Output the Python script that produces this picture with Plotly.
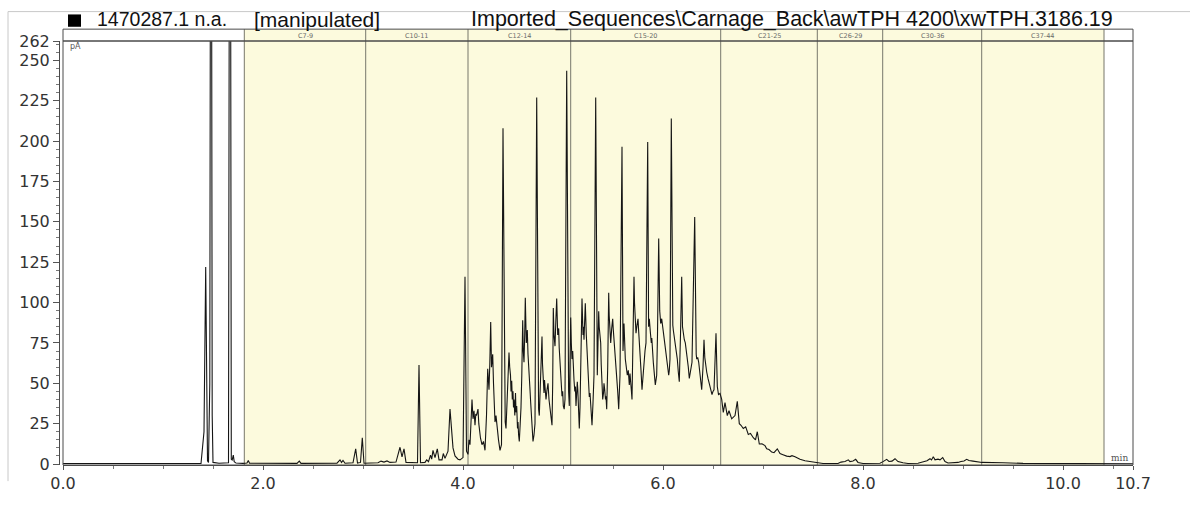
import plotly.graph_objects as go

# ---------------- data ----------------
time_min = [
    0.00, 1.38, 1.41, 1.427, 1.445, 1.455, 1.468, 1.48, 1.492, 1.50, 1.56, 1.655, 1.67, 1.683, 1.692,
    1.703, 1.712, 1.73, 1.80, 1.84, 1.853, 1.865,
    2.34, 2.363, 2.38, 2.74, 2.77, 2.785, 2.80, 2.82, 2.90, 2.927, 2.945, 2.975, 2.993, 3.01,
    3.15, 3.18, 3.21, 3.24, 3.27, 3.33, 3.37, 3.39, 3.41, 3.43, 3.545, 3.56, 3.575, 3.62, 3.637,
    3.655, 3.675, 3.687, 3.70, 3.72, 3.743, 3.76, 3.79, 3.803, 3.82, 3.837, 3.85, 3.87, 3.878,
    3.885, 3.90, 3.92, 3.95, 3.97,
    4.00, 4.02, 4.035, 4.05, 4.06, 4.07, 4.08, 4.09, 4.10, 4.11, 4.12, 4.128, 4.135, 4.15, 4.158,
    4.165, 4.175, 4.19, 4.205, 4.22, 4.235, 4.247, 4.253, 4.26, 4.268, 4.277, 4.285, 4.297, 4.305,
    4.31, 4.32, 4.33, 4.34, 4.355, 4.37, 4.385, 4.40, 4.415, 4.422, 4.43, 4.437, 4.445, 4.452,
    4.46, 4.467, 4.475, 4.48, 4.487, 4.493, 4.50, 4.505, 4.51, 4.518, 4.525, 4.53, 4.537, 4.545,
    4.55, 4.556, 4.563, 4.572, 4.58, 4.588, 4.597, 4.603, 4.61, 4.617, 4.623, 4.633, 4.643, 4.65,
    4.655, 4.662, 4.67, 4.677, 4.685, 4.693, 4.70, 4.71, 4.72, 4.737, 4.75, 4.756, 4.763, 4.77,
    4.775, 4.782, 4.79, 4.795, 4.80, 4.805, 4.81, 4.815, 4.82, 4.825, 4.83, 4.84, 4.85, 4.86,
    4.87, 4.88, 4.89, 4.897, 4.903, 4.91, 4.92, 4.928, 4.937, 4.947, 4.957, 4.962, 4.967, 4.972,
    4.977, 4.983, 4.99, 4.997, 5.003, 5.012, 5.02, 5.037, 5.05, 5.056, 5.063, 5.07, 5.077, 5.083,
    5.09, 5.097, 5.103, 5.11, 5.118, 5.124, 5.13, 5.137, 5.143, 5.148, 5.153, 5.158, 5.163, 5.17,
    5.178, 5.184, 5.19, 5.20, 5.205, 5.21, 5.217, 5.223, 5.233, 5.238, 5.243, 5.248, 5.253, 5.258,
    5.263, 5.27, 5.277, 5.283, 5.29, 5.30, 5.31, 5.327, 5.343, 5.35, 5.357, 5.362, 5.367, 5.372,
    5.377, 5.382, 5.387, 5.392, 5.397, 5.405, 5.41, 5.417, 5.425, 5.43, 5.437, 5.447, 5.457, 5.462,
    5.467, 5.472, 5.477, 5.487, 5.497, 5.502, 5.507, 5.512, 5.517, 5.527, 5.537, 5.547, 5.557,
    5.564, 5.57, 5.59, 5.60, 5.605, 5.61, 5.617, 5.623, 5.633, 5.643, 5.653, 5.663, 5.67, 5.677,
    5.683, 5.69, 5.70, 5.71, 5.715, 5.72, 5.725, 5.73, 5.74, 5.75, 5.755, 5.76, 5.765, 5.77, 5.78,
    5.79, 5.80, 5.81, 5.82, 5.83, 5.847, 5.856, 5.863, 5.873, 5.883, 5.888, 5.893, 5.898, 5.903,
    5.913, 5.923, 5.93, 5.937, 5.945, 5.957, 5.967, 5.972, 5.977, 5.987, 5.997, 6.007, 6.017,
    6.022, 6.027, 6.032, 6.037, 6.047, 6.057, 6.063, 6.07, 6.083, 6.093, 6.098, 6.103, 6.113,
    6.123, 6.133, 6.143, 6.153, 6.163, 6.175, 6.187, 6.195, 6.203, 6.213, 6.223, 6.233, 6.243,
    6.253, 6.263, 6.275, 6.29, 6.317, 6.327, 6.332, 6.337, 6.347, 6.357, 6.365, 6.372, 6.38,
    6.387, 6.40, 6.41, 6.418, 6.425, 6.43, 6.437, 6.45, 6.463, 6.475, 6.49, 6.50, 6.51, 6.53,
    6.543, 6.555, 6.57,
    6.587, 6.603, 6.62, 6.643, 6.66, 6.687, 6.72, 6.743, 6.763, 6.78, 6.803, 6.827, 6.853, 6.875,
    6.903, 6.925, 6.943, 6.963, 6.99, 7.02, 7.037, 7.06, 7.087, 7.11, 7.143, 7.17, 7.20, 7.237,
    7.27, 7.29, 7.32, 7.37, 7.42, 7.47, 7.543, 7.60, 7.75, 7.78, 7.82, 7.853, 7.87, 7.90, 7.927,
    7.95, 8.00, 8.17, 8.20, 8.237, 8.26, 8.29, 8.32, 8.35, 8.40, 8.45, 8.55, 8.60, 8.64, 8.67,
    8.685, 8.703, 8.72, 8.75, 8.77, 8.797, 8.82, 8.85, 8.95, 8.98, 9.01, 9.037, 9.06, 9.10, 9.15,
    9.19, 9.40, 9.60, 10.70,
]
signal_pA = [
    0.3, 0.3, 20, 122, 2, 1, 50, 600, 30, 1, 0.5, 0.8, 600, 3, 2.5,
    5.5, 1.5, 0.6, 0.4, 0.6, 2.2, 0.5,
    0.4, 1.8, 0.4, 0.5, 2.6, 1.0, 2.2, 0.5, 0.8, 9.4, 0.6, 1.0, 16.3, 0.5,
    0.8, 1.8, 1.2, 1.9, 1.0, 1.2, 10.4, 4.5, 9.4, 1.0, 0.8, 61.3, 0.8, 1.0, 2.6,
    1.5, 5.5, 3.0, 8.5, 4.0, 9.4, 2.6, 2.6, 6.5, 3.5, 6.5, 8, 34, 26,
    22, 10, 5, 3, 2.6,
    4, 116, 8, 6, 15, 12, 30, 40, 28, 33, 24, 31, 30, 34, 25,
    20, 16, 12, 14, 8.5, 30, 59, 50, 46, 62, 88, 60, 68, 50,
    40, 26, 30, 22, 15, 8.5, 12, 208, 30, 26, 22, 34, 40, 52,
    69, 60, 55, 45, 51.5, 40, 45, 35, 40, 30, 44, 32, 36, 22,
    26, 18, 14, 25, 35, 55, 89, 70, 63, 80, 103, 75, 83, 68,
    60, 52, 46, 38, 30, 20, 14, 18, 25, 227, 40, 34, 30, 42,
    55, 62, 79, 62, 55, 46, 44, 52, 48, 42, 40, 46, 50, 40,
    34, 30, 24, 50, 96.6, 80, 73, 88, 102.5, 80, 84, 72, 65, 58,
    51, 47, 42, 45, 36, 34, 40, 243.5, 60, 45, 36, 60, 90.7, 75,
    65, 70, 55.5, 52, 45, 48, 36, 44, 51, 46, 40, 30, 22, 35,
    55, 80, 102.5, 80, 85, 77, 88, 99.5, 80, 72, 69, 60, 55, 50,
    41.5, 44, 35, 30, 24, 38, 55, 227, 55, 75, 94.6, 85, 80, 82,
    75, 62, 55, 47, 40, 44, 50, 46, 40, 42, 34, 60, 106, 92,
    85, 80, 75, 84, 90, 84, 80, 74, 69, 63, 59, 45, 34,
    45, 55, 196.5, 70, 78, 87, 74, 65, 60, 55, 58, 49, 56, 52,
    46, 40, 70, 116, 100, 90, 84, 81, 86, 90, 84, 80, 76, 71, 58,
    46, 55, 65, 70, 75, 199.5, 85, 90, 82, 75, 78, 70, 66, 63,
    56, 49, 52, 55, 80, 139.7, 95, 90, 87, 90, 83, 80, 75,
    72, 70, 66, 63, 58, 55, 58, 65, 214, 90, 86, 83, 79,
    75, 70, 65, 57, 51, 80, 116, 85, 79, 77, 75, 70, 67,
    60, 53, 58, 63, 153, 70, 68, 65, 66, 63, 58, 55, 50,
    46, 60, 77, 66, 62, 60, 57, 53, 49, 46, 43, 45, 46, 81,
    48, 43, 43.7,
    40, 32, 38, 30, 33, 28, 30, 38.8, 25, 24, 22, 23, 18.3, 19,
    16.3, 15, 20, 12.4, 12.5, 11.4, 9.4, 9, 7.4, 7.0, 9.4, 6.5, 5.8, 4.9,
    4.6, 5.2, 4.5, 2.9, 2.0, 1.6, 0.6, 0.3, 0.3, 1.2, 1.6, 2.6, 1.5, 1.9, 2.9,
    1.0, 0.3, 0.5, 1.5, 2.9, 1.6, 1.8, 3.3, 1.5, 0.8, 0.3, 0.5, 1.2, 2.0, 3.3,
    2.5, 4.5, 2.6, 3.0, 2.6, 4.0, 1.5, 0.6, 1.0, 1.6, 1.9, 2.9, 2.2, 1.8, 1.2,
    1.0, 0.8, 0.4, 0.2,
]

band_edges = [1.813, 3.027, 4.05, 5.077, 6.577, 7.543, 8.197, 9.187, 10.41]
band_labels = ["C7-9", "C10-11", "C12-14", "C15-20", "C21-25", "C26-29", "C30-36", "C37-44"]

x_tickvals = [0, 2, 4, 6, 8, 10, 10.7]
x_ticktext = ["0.0", "2.0", "4.0", "6.0", "8.0", "10.0", "10.7"]
y_tickvals = [0, 25, 50, 75, 100, 125, 150, 175, 200, 225, 250, 262]
y_ticktext = ["0", "25", "50", "75", "100", "125", "150", "175", "200", "225", "250", "262"]

title_id = "1470287.1 n.a."
title_flag = "[manipulated]"
title_path = "Imported_Sequences\\Carnage_Back\\awTPH 4200\\xwTPH.3186.19"

# ---------------- styling ----------------
W, H = 1203, 505
ML, MR, MT, MB = 63, 70, 41, 17
PW, PH = W - ML - MR, H - MT - MB
X_RANGE = [0, 10.7]
Y_RANGE = [-0.6, 262]
YELLOW = "#FCFADD"
BAND_LINE = "#77776a"
FRAME = "#4a4a4a"
TICK_FONT = dict(family="DejaVu Sans", size=16, color="#333333")
HEADER_H = 12.5 / PH
TITLE_Y = 18


def px_x(p):
    return (p - ML) / PW


def px_y(p):
    return (H - MB - p) / PH


fig = go.Figure()
fig.add_trace(go.Scatter(
    x=time_min, y=signal_pA, mode="lines",
    line=dict(color="#151515", width=1.1),
    hoverinfo="skip", showlegend=False,
))

shapes = []
for i in range(len(band_labels)):
    shapes.append(dict(type="rect", xref="x", yref="paper",
                       x0=band_edges[i], x1=band_edges[i + 1], y0=0, y1=1 + HEADER_H,
                       fillcolor=YELLOW, line=dict(width=0), layer="below"))
for e in band_edges:
    shapes.append(dict(type="line", xref="x", yref="paper",
                       x0=e, x1=e, y0=0, y1=1 + HEADER_H,
                       line=dict(color=BAND_LINE, width=1), layer="below"))
shapes.append(dict(type="rect", xref="paper", yref="paper", x0=0, x1=1, y0=0, y1=1,
                   line=dict(color=FRAME, width=1), fillcolor="rgba(0,0,0,0)", layer="above"))
shapes.append(dict(type="rect", xref="paper", yref="paper", x0=0, x1=1, y0=1, y1=1 + HEADER_H,
                   line=dict(color=FRAME, width=1), fillcolor="rgba(0,0,0,0)", layer="above"))
shapes.append(dict(type="rect", xref="paper", yref="paper",
                   x0=px_x(68), x1=px_x(81), y0=px_y(26), y1=px_y(13),
                   fillcolor="#000000", line=dict(width=0)))
shapes.append(dict(type="line", xref="paper", yref="paper",
                   x0=px_x(8), x1=px_x(1190), y0=px_y(10), y1=px_y(10),
                   line=dict(color="#c8c8c8", width=1)))
shapes.append(dict(type="line", xref="paper", yref="paper",
                   x0=px_x(8), x1=px_x(8), y0=px_y(10), y1=px_y(505),
                   line=dict(color="#c8c8c8", width=1)))

annotations = []
for i, lab in enumerate(band_labels):
    annotations.append(dict(x=(band_edges[i] + band_edges[i + 1]) / 2, y=px_y(35.5),
                            xref="x", yref="paper", text=lab, showarrow=False,
                            font=dict(family="DejaVu Sans", size=6.5, color="#6a6a6a"),
                            xanchor="center", yanchor="middle"))
annotations += [
    dict(x=px_x(95), y=px_y(TITLE_Y), xref="paper", yref="paper", text=title_id, showarrow=False,
         xanchor="left", yanchor="middle", font=dict(family="Liberation Sans", size=19.5, color="#111")),
    dict(x=px_x(252), y=px_y(TITLE_Y), xref="paper", yref="paper", text=title_flag, showarrow=False,
         xanchor="left", yanchor="middle", font=dict(family="Liberation Sans", size=21, color="#111")),
    dict(x=px_x(469), y=px_y(TITLE_Y), xref="paper", yref="paper", text=title_path, showarrow=False,
         xanchor="left", yanchor="middle", font=dict(family="Liberation Sans", size=21.5, color="#111")),
    dict(x=px_x(68), y=px_y(47), xref="paper", yref="paper", text="pA", showarrow=False,
         xanchor="left", yanchor="middle", font=dict(family="DejaVu Sans", size=8, color="#555")),
    dict(x=px_x(1119), y=px_y(481), xref="paper", yref="paper", text="min", showarrow=False,
         xanchor="center", yanchor="middle", font=dict(family="DejaVu Serif", size=9, color="#555")),
]

fig.update_layout(
    width=W, height=H,
    margin=dict(l=ML, r=MR, t=MT, b=MB, pad=0),
    paper_bgcolor="white", plot_bgcolor="white",
    showlegend=False,
    shapes=shapes, annotations=annotations,
    xaxis=dict(range=X_RANGE, showgrid=False, zeroline=False,
               showline=True, linecolor=FRAME, linewidth=1,
               ticks="outside", ticklen=4, tickcolor="#555", tickwidth=1,
               tickmode="array", tickvals=x_tickvals, ticktext=x_ticktext,
               tickfont=TICK_FONT,
               minor=dict(tickmode="linear", tick0=0, dtick=0.5, ticks="outside",
                          ticklen=3, tickcolor="#777")),
    yaxis=dict(range=Y_RANGE, showgrid=False, zeroline=False,
               anchor="free", position=0, shift=-4,
               showline=True, linecolor=FRAME, linewidth=1,
               ticks="outside", ticklen=6, tickcolor="#555", tickwidth=1,
               tickmode="array", tickvals=y_tickvals, ticktext=y_ticktext,
               tickfont=TICK_FONT,
               minor=dict(tickmode="linear", tick0=0, dtick=5, ticks="outside",
                          ticklen=3, tickcolor="#777")),
)

fig.write_html("out.html", config={"displayModeBar": False},
               post_script="document.body.style.margin='0';")
